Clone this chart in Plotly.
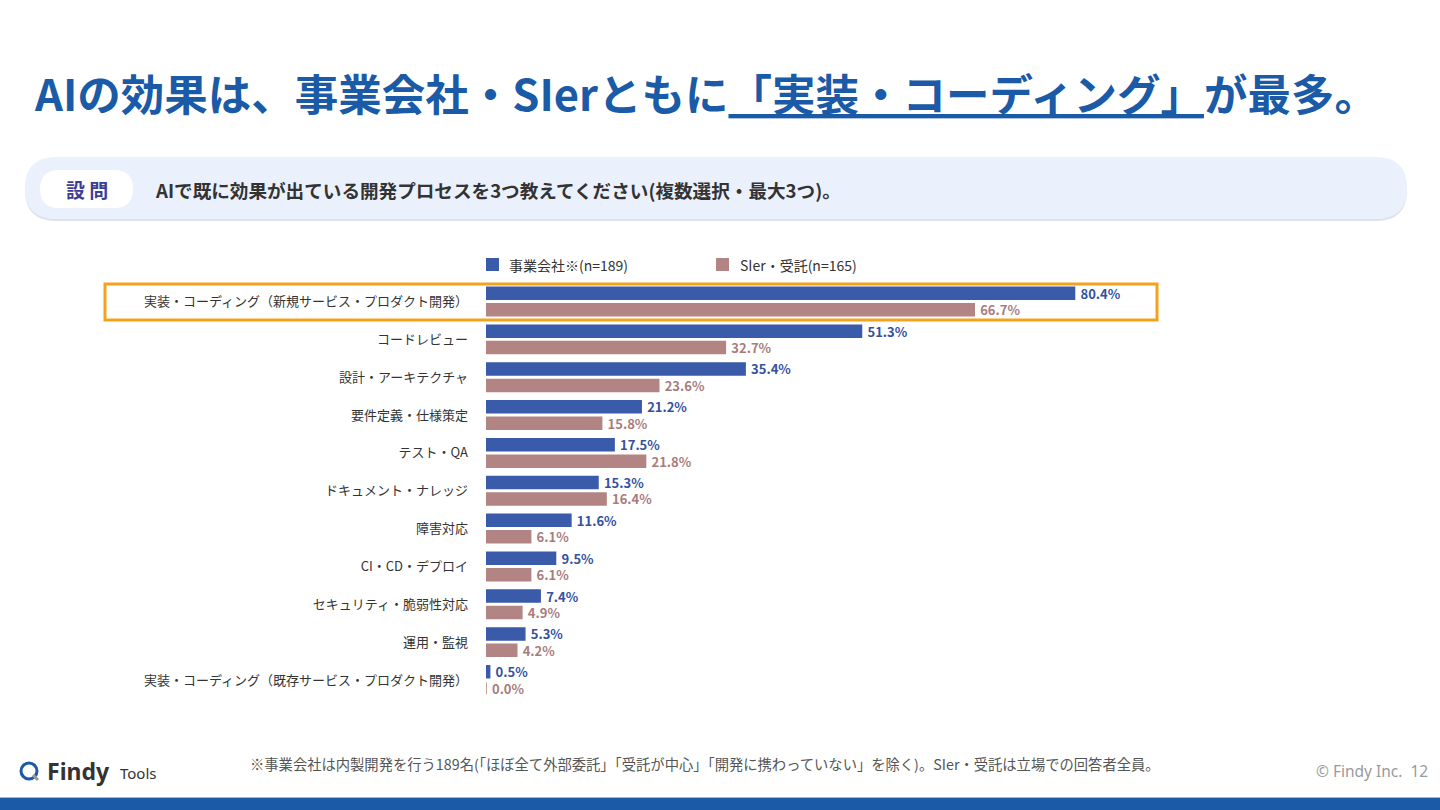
import plotly.graph_objects as go

W, H = 1440, 810
FONT = "Noto Sans CJK JP"

# データ
categories = [
    "実装・コーディング（新規サービス・プロダクト開発）",
    "コードレビュー",
    "設計・アーキテクチャ",
    "要件定義・仕様策定",
    "テスト・QA",
    "ドキュメント・ナレッジ",
    "障害対応",
    "CI・CD・デプロイ",
    "セキュリティ・脆弱性対応",
    "運用・監視",
    "実装・コーディング（既存サービス・プロダクト開発）",
]
series_names = ["事業会社※(n=189)", "SIer・受託(n=165)"]
jigyo_values = [80.4, 51.3, 35.4, 21.2, 17.5, 15.3, 11.6, 9.5, 7.4, 5.3, 0.5]
sier_values = [66.7, 32.7, 23.6, 15.8, 21.8, 16.4, 6.1, 6.1, 4.9, 4.2, 0.0]

title_head = "AIの効果は、事業会社・SIerともに"
title_mark = "「実装・コーディング」"
title_tail = "が最多。"
question = "AIで既に効果が出ている開発プロセスを3つ教えてください(複数選択・最大3つ)。"
footnote = "※事業会社は内製開発を行う189名(「ほぼ全て外部委託」「受託が中心」「開発に携わっていない」を除く)。SIer・受託は立場での回答者全員。"

BLUE = "#3A5BAA"
PINK = "#B38484"
BLUE_TXT = "#34519E"
PINK_TXT = "#A87C7C"
TITLE_BLUE = "#1A5AA6"


def px_x(x):
    return x / W


def px_y(y):
    return 1 - y / H


def rrect(x0, y0, x1, y1, r):
    pts = lambda x, y: f"{px_x(x):.5f},{px_y(y):.5f}"
    return (
        f"M {pts(x0 + r, y0)} L {pts(x1 - r, y0)} Q {pts(x1, y0)} {pts(x1, y0 + r)} "
        f"L {pts(x1, y1 - r)} Q {pts(x1, y1)} {pts(x1 - r, y1)} "
        f"L {pts(x0 + r, y1)} Q {pts(x0, y1)} {pts(x0, y1 - r)} "
        f"L {pts(x0, y0 + r)} Q {pts(x0, y0)} {pts(x0 + r, y0)} Z"
    )


fig = go.Figure()
for name, vals, col, tcol in [
    (series_names[0], jigyo_values, BLUE, BLUE_TXT),
    (series_names[1], sier_values, PINK, PINK_TXT),
]:
    fig.add_trace(go.Bar(
        y=categories, x=vals, name=name, orientation="h",
        marker=dict(color=col, line=dict(color=col, width=1.5)),
        text=vals, texttemplate="\u00a0%{x:.1f}%", textposition="outside",
        constraintext="none",
        textfont=dict(family=FONT, size=13, color=tcol, weight="bold"),
        cliponaxis=False, showlegend=False, hoverinfo="skip",
    ))

shapes = [
    # question box
    dict(type="path", xref="paper", yref="paper", path=rrect(25, 159, 1407, 221, 31),
         fillcolor="#DCE3EE", line=dict(width=0), layer="below"),
    dict(type="path", xref="paper", yref="paper", path=rrect(25, 157, 1407, 219, 31),
         fillcolor="#EAF1FD", line=dict(width=0), layer="below"),
    dict(type="path", xref="paper", yref="paper", path=rrect(40, 170, 133, 208, 19),
         fillcolor="white", line=dict(width=0), layer="below"),
    # highlight frame
    dict(type="rect", xref="paper", yref="paper",
         x0=px_x(105), x1=px_x(1157), y0=px_y(320), y1=px_y(284),
         line=dict(color="#F4A11C", width=3)),
    # legend squares
    dict(type="rect", xref="paper", yref="paper",
         x0=px_x(486), x1=px_x(499), y0=px_y(271), y1=px_y(258),
         fillcolor=BLUE, line=dict(width=0)),
    dict(type="rect", xref="paper", yref="paper",
         x0=px_x(716), x1=px_x(729), y0=px_y(271), y1=px_y(258),
         fillcolor=PINK, line=dict(width=0)),
    # bottom band
    dict(type="rect", xref="paper", yref="paper",
         x0=0, x1=1, y0=0, y1=px_y(798),
         fillcolor="#1A5AA6", line=dict(width=0)),
    dict(type="line", xref="paper", yref="paper",
         x0=0, x1=1, y0=px_y(797.5), y1=px_y(797.5),
         line=dict(color="#9DB9DD", width=1)),
    # logo icon
    dict(type="circle", xref="paper", yref="paper",
         x0=px_x(21), x1=px_x(37), y0=px_y(779), y1=px_y(763),
         line=dict(color="#1A5AA6", width=3)),
    dict(type="line", xref="paper", yref="paper",
         x0=px_x(33), x1=px_x(38), y0=px_y(775), y1=px_y(780),
         line=dict(color="#9A9A9A", width=3)),
]

annotations = [
    dict(text=f"<b>{title_head}<u>{title_mark}</u>{title_tail}</b>",
         x=px_x(32), y=px_y(92), xanchor="left", yanchor="middle",
         font=dict(family=FONT, size=43.5, color=TITLE_BLUE)),
    dict(text="<b>設 問</b>", x=px_x(86.5), y=px_y(189), xanchor="center", yanchor="middle",
         font=dict(family=FONT, size=19, color="#3B3E96")),
    dict(text=f"<b>{question}</b>", x=px_x(153), y=px_y(189), xanchor="left", yanchor="middle",
         font=dict(family=FONT, size=18.6, color="#333333")),
    dict(text=series_names[0], x=px_x(507), y=px_y(265), xanchor="left", yanchor="middle",
         font=dict(family=FONT, size=14, color="#333333")),
    dict(text=series_names[1], x=px_x(738), y=px_y(265), xanchor="left", yanchor="middle",
         font=dict(family=FONT, size=14, color="#333333")),
    dict(text=footnote, x=px_x(248), y=px_y(763), xanchor="left", yanchor="middle",
         font=dict(family=FONT, size=14.3, color="#555555")),
    dict(text="© Findy Inc.  12", x=px_x(1430), y=px_y(771), xanchor="right", yanchor="middle",
         font=dict(family="Noto Sans", size=15.5, color="#9A9A9A")),
    dict(text="<b>Findy</b>", x=px_x(45), y=px_y(771), xanchor="left", yanchor="middle",
         font=dict(family="Noto Sans", size=23, color="#333333")),
    dict(text="Tools", x=px_x(118), y=px_y(773), xanchor="left", yanchor="middle",
         font=dict(family="Noto Sans", size=15, color="#333333")),
]
for a in annotations:
    a.update(xref="paper", yref="paper", showarrow=False)

fig.update_layout(
    width=W, height=H,
    margin=dict(l=0, r=0, t=0, b=0),
    paper_bgcolor="white", plot_bgcolor="white",
    barmode="group", bargap=0.13, bargroupgap=0.27,
    shapes=shapes, annotations=annotations,
    font=dict(family=FONT),
    xaxis=dict(domain=[px_x(486), px_x(1218)], range=[0, 100],
               showgrid=False, zeroline=False, showticklabels=False, showline=False),
    yaxis=dict(domain=[px_y(698.9), px_y(282.6)], autorange="reversed",
               showgrid=False, zeroline=False, showline=False, ticks="",
               ticklabelstandoff=17,
               tickfont=dict(family=FONT, size=13, color="#333333")),
)

# ページ余白をなくして 1440x810 にぴったり合わせる
fig.write_html("out.html", config={"displayModeBar": False},
               post_script="document.body.style.margin='0';")
